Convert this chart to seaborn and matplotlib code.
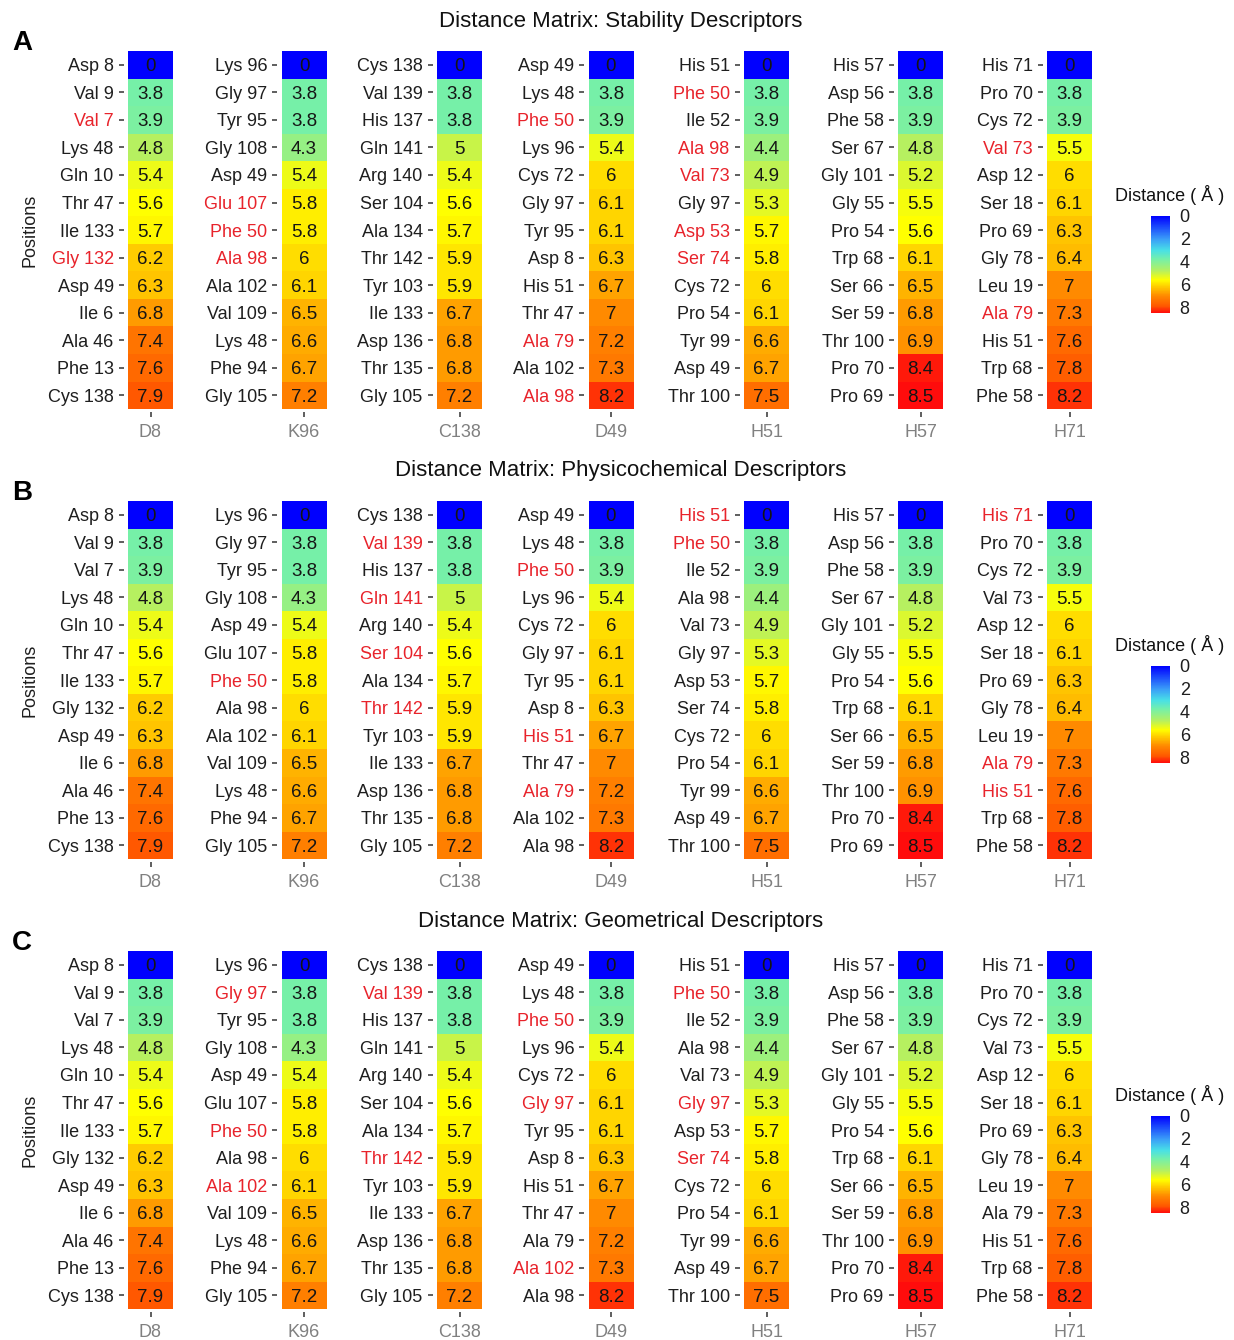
import numpy as np
import pandas as pd
import matplotlib
matplotlib.use("Agg")
import matplotlib.pyplot as plt
from matplotlib.colors import LinearSegmentedColormap, Normalize
from matplotlib.cm import ScalarMappable
import seaborn as sns

sns.set_style("white")
plt.rcParams["font.family"] = ["Liberation Sans", "DejaVu Sans"]

# ---------------------------------------------------------------- data
centers = ["D8", "K96", "C138", "D49", "H51", "H57", "H71"]

d8_positions = ["Asp 8", "Val 9", "Val 7", "Lys 48", "Gln 10", "Thr 47", "Ile 133",
                "Gly 132", "Asp 49", "Ile 6", "Ala 46", "Phe 13", "Cys 138"]
d8_distances = [0, 3.8, 3.9, 4.8, 5.4, 5.6, 5.7, 6.2, 6.3, 6.8, 7.4, 7.6, 7.9]

k96_positions = ["Lys 96", "Gly 97", "Tyr 95", "Gly 108", "Asp 49", "Glu 107", "Phe 50",
                 "Ala 98", "Ala 102", "Val 109", "Lys 48", "Phe 94", "Gly 105"]
k96_distances = [0, 3.8, 3.8, 4.3, 5.4, 5.8, 5.8, 6, 6.1, 6.5, 6.6, 6.7, 7.2]

c138_positions = ["Cys 138", "Val 139", "His 137", "Gln 141", "Arg 140", "Ser 104", "Ala 134",
                  "Thr 142", "Tyr 103", "Ile 133", "Asp 136", "Thr 135", "Gly 105"]
c138_distances = [0, 3.8, 3.8, 5, 5.4, 5.6, 5.7, 5.9, 5.9, 6.7, 6.8, 6.8, 7.2]

d49_positions = ["Asp 49", "Lys 48", "Phe 50", "Lys 96", "Cys 72", "Gly 97", "Tyr 95",
                 "Asp 8", "His 51", "Thr 47", "Ala 79", "Ala 102", "Ala 98"]
d49_distances = [0, 3.8, 3.9, 5.4, 6, 6.1, 6.1, 6.3, 6.7, 7, 7.2, 7.3, 8.2]

h51_positions = ["His 51", "Phe 50", "Ile 52", "Ala 98", "Val 73", "Gly 97", "Asp 53",
                 "Ser 74", "Cys 72", "Pro 54", "Tyr 99", "Asp 49", "Thr 100"]
h51_distances = [0, 3.8, 3.9, 4.4, 4.9, 5.3, 5.7, 5.8, 6, 6.1, 6.6, 6.7, 7.5]

h57_positions = ["His 57", "Asp 56", "Phe 58", "Ser 67", "Gly 101", "Gly 55", "Pro 54",
                 "Trp 68", "Ser 66", "Ser 59", "Thr 100", "Pro 70", "Pro 69"]
h57_distances = [0, 3.8, 3.9, 4.8, 5.2, 5.5, 5.6, 6.1, 6.5, 6.8, 6.9, 8.4, 8.5]

h71_positions = ["His 71", "Pro 70", "Cys 72", "Val 73", "Asp 12", "Ser 18", "Pro 69",
                 "Gly 78", "Leu 19", "Ala 79", "His 51", "Trp 68", "Phe 58"]
h71_distances = [0, 3.8, 3.9, 5.5, 6, 6.1, 6.3, 6.4, 7, 7.3, 7.6, 7.8, 8.2]

positions = [d8_positions, k96_positions, c138_positions, d49_positions,
             h51_positions, h57_positions, h71_positions]
distances = [d8_distances, k96_distances, c138_distances, d49_distances,
             h51_distances, h57_distances, h71_distances]

panel_letters = ["A", "B", "C"]
panel_titles = ["Distance Matrix: Stability Descriptors",
                "Distance Matrix: Physicochemical Descriptors",
                "Distance Matrix: Geometrical Descriptors"]

# positions flagged by each descriptor set (drawn in red)
stability_flags = [["Val 7", "Gly 132"],
                   ["Glu 107", "Phe 50", "Ala 98"],
                   [],
                   ["Phe 50", "Ala 79", "Ala 98"],
                   ["Phe 50", "Ala 98", "Val 73", "Asp 53", "Ser 74"],
                   [],
                   ["Val 73", "Ala 79"]]
physchem_flags = [[],
                  ["Phe 50"],
                  ["Val 139", "Gln 141", "Ser 104", "Thr 142"],
                  ["Phe 50", "His 51", "Ala 79"],
                  ["His 51", "Phe 50"],
                  [],
                  ["His 71", "Ala 79", "His 51"]]
geometry_flags = [[],
                  ["Gly 97", "Phe 50", "Ala 102"],
                  ["Val 139", "Thr 142"],
                  ["Phe 50", "Gly 97", "Ala 102"],
                  ["Phe 50", "Gly 97", "Ser 74"],
                  [],
                  []]
panel_flags = [stability_flags, physchem_flags, geometry_flags]

# ---------------------------------------------------------------- colours
vmin, vmax = 0.0, 8.5
stops = [(0.0, "#0000FF"), (2.0, "#3A9CF8"), (3.0, "#48E0E6"), (3.8, "#76F0A8"),
         (4.8, "#B6F060"), (5.6, "#FFFF00"), (6.2, "#FFCC00"), (7.0, "#FF8A00"),
         (7.9, "#FF5800"), (8.5, "#FF0C0C")]
cmap = LinearSegmentedColormap.from_list(
    "distance", [((v - vmin) / (vmax - vmin), c) for v, c in stops])
norm = Normalize(vmin=vmin, vmax=vmax)

RED = "#E8232B"
LABEL = "#1E1E1E"
XLAB = "#808080"

# ---------------------------------------------------------------- layout (pixels)
W, H = 1234, 1340
fig = plt.figure(figsize=(W / 100, H / 100), dpi=100)
fig.patch.set_facecolor("white")


def box(left, top, width, height):
    return [left / W, 1 - (top + height) / H, width / W, height / H]


tile_w = 45.0
row_h = 27.55
n_rows = 13
col_x = [150.5, 304, 459.5, 611, 766.5, 920.5, 1069.5]
panel_step = 450
tiles_top = 51

for p in range(3):
    off = p * panel_step
    fig.text(621 / W, 1 - (off + 21) / H, panel_titles[p], ha="center", va="center",
             fontsize=16, color="#111111")
    fig.text(22 / W, 1 - (off + 43) / H, panel_letters[p], ha="center", va="center",
             fontsize=20, fontweight="bold", color="#000000")
    fig.text(30 / W, 1 - (off + tiles_top + n_rows * row_h / 2) / H, "Positions",
             rotation=90, ha="center", va="center", fontsize=13, color="#1E1E1E")

    for j, center in enumerate(centers):
        left = col_x[j] - 0.6 * tile_w
        top = off + tiles_top - 0.1 * row_h
        ax = fig.add_axes(box(left, top, 1.2 * tile_w, (n_rows + 0.2) * row_h))
        df = pd.DataFrame({center: distances[j]}, index=positions[j])
        sns.heatmap(df, ax=ax, cmap=cmap, vmin=vmin, vmax=vmax, annot=True, fmt="g",
                    cbar=False, linewidths=0,
                    annot_kws=dict(color="#151515", fontsize=13.5,
                                   va="center_baseline"))
        ax.set_xlim(-0.1, 1.1)
        ax.set_ylim(n_rows + 0.1, -0.1)
        ax.set_xlabel("")
        ax.set_ylabel("")
        for s in ax.spines.values():
            s.set_visible(False)
        ax.tick_params(axis="y", left=True, length=3.6, width=1.1, color="#333333",
                       pad=3.5, labelsize=13, labelcolor=LABEL, rotation=0)
        ax.tick_params(axis="x", bottom=True, length=3.6, width=1.1, color="#333333",
                       pad=5, labelsize=13, labelcolor=XLAB, rotation=0)
        flagged = panel_flags[p][j]
        for lbl in ax.get_yticklabels():
            lbl.set_verticalalignment("center_baseline")
            if lbl.get_text() in flagged:
                lbl.set_color(RED)

    # colour bar legend, 0 at the top
    fig.text(1115 / W, 1 - (off + 195) / H, "Distance ( Å )", ha="left", va="center",
             fontsize=13, color="#111111")
    cax = fig.add_axes(box(1151, off + 216, 19, 97))
    cb = fig.colorbar(ScalarMappable(norm=norm, cmap=cmap), cax=cax,
                      ticks=[0, 2, 4, 6, 8])
    cb.outline.set_visible(False)
    cax.invert_yaxis()
    cax.tick_params(axis="y", length=0, pad=7, labelsize=13, labelcolor="#1E1E1E")

fig.savefig("out.png", dpi=100, facecolor="white")
